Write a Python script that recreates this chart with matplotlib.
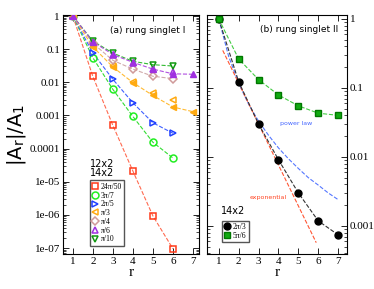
import numpy as np
import matplotlib.pyplot as plt
from matplotlib.ticker import LogLocator, NullFormatter

# panel (a), open symbols (12x2)
r_a = [1, 2, 3, 4, 5, 6]
a_24pi50 = [1, 0.015, 5.0e-4, 2.1e-5, 9.3e-7, 9.5e-8]
a_3pi7 = [1, 0.055, 0.0061, 9.3e-4, 1.55e-4, 5.2e-5]
a_2pi5 = [1, 0.077, 0.0123, 0.0024, 6.0e-4, 2.9e-4]
a_pi3 = [1, 0.12, 0.031, 0.0105, 0.0046, 0.0030]
a_pi4 = [1, 0.15, 0.046, 0.025, 0.0152, 0.0129]
a_pi6 = [1, 0.165, 0.068, 0.039, 0.026, 0.020]
a_pi10 = [1, 0.175, 0.076, 0.043, 0.034, 0.031]
# panel (a), filled symbols (14x2)
r_a14 = [1, 2, 3, 4, 5, 6, 7]
a14_pi3 = [1, 0.117, 0.029, 0.0098, 0.0040, 0.0018, 0.0013]
a14_pi6 = [1, 0.167, 0.069, 0.040, 0.025, 0.018, 0.0175]

# panel (b)
r_b = [1, 2, 3, 4, 5, 6, 7]
b_2pi3 = [1, 0.123, 0.030, 0.0091, 0.0030, 0.00118, 7.4e-4]
b_5pi6 = [1, 0.263, 0.132, 0.079, 0.055, 0.043, 0.040]
r_pow = [1, 1.5, 2, 2.5, 3, 3.5, 4, 4.5, 5, 5.5, 6, 6.5, 7]
pow_law = [1, 0.285, 0.117, 0.058, 0.033, 0.0206, 0.0135, 0.0094, 0.0068,
           0.0050, 0.0039, 0.0030, 0.0024]
r_exp = [1.2, 5.9]
exp_fit = [0.35, 5.7e-4]

plt.rcParams['font.family'] = 'Liberation Serif'
plt.rcParams['mathtext.fontset'] = 'custom'
plt.rcParams['mathtext.rm'] = 'Liberation Serif'
plt.rcParams['mathtext.it'] = 'Liberation Serif:italic'
fig = plt.figure(figsize=(3.74, 2.89), dpi=100)
axa = fig.add_axes([0.168, 0.121, 0.364, 0.827])
axb = fig.add_axes([0.553, 0.121, 0.375, 0.827])

ms = 5
lw = 0.8
series = [
    (a_24pi50, 's', '#ff3a1a', '#ff6a50', '24π/50'),
    (a_3pi7, 'o', '#22ee22', '#33dd33', '3π/7'),
    (a_2pi5, '>', '#2040ff', '#4060ff', '2π/5'),
    (a_pi3, '<', '#ffaa11', '#ffbb33', 'π/3'),
    (a_pi4, 'D', '#d09a9a', '#d0aaaa', 'π/4'),
    (a_pi6, '^', '#a030e0', '#b050e0', 'π/6'),
    (a_pi10, 'v', '#119911', '#33bb33', 'π/10'),
]
for vals, mk, c, lc, lab in series:
    if mk not in ('<', '^'):
        axa.plot(r_a, vals, '--', color=lc, lw=lw, zorder=1)
    axa.plot(r_a, vals, mk, mfc='none', mec=c, mew=1.1,
             ms=ms if mk != 'D' else 4, label=lab, zorder=2)
axa.plot(r_a14, a14_pi3, '--', color='#ffbb33', lw=lw, zorder=1)
axa.plot(r_a14, a14_pi3, '<', color='#ffaa11', ms=ms, zorder=3)
axa.plot(r_a14, a14_pi6, '--', color='#b050e0', lw=lw, zorder=1)
axa.plot(r_a14, a14_pi6, '^', color='#a030e0', ms=ms, zorder=3)

axa.set_yscale('log')
axa.set_xlim(0.5, 7.3)
axa.set_ylim(6.6e-8, 1.07)
axa.set_yticks([1, 0.1, 0.01, 0.001, 1e-4, 1e-5, 1e-6, 1e-7])
axa.set_yticklabels(['1', '0.1', '0.01', '0.001', '0.0001', '1e-05', '1e-06', '1e-07'])
axa.set_ylabel(r'|A$_\mathregular{r}$|/A$_\mathregular{1}$', family='DejaVu Sans',
               fontsize=14, labelpad=1)
axa.text(0.62, 0.937, '(a) rung singlet I', transform=axa.transAxes, family='DejaVu Sans',
         fontsize=6.5, ha='center', va='center')
axa.text(0.29, 0.377, '12x2', transform=axa.transAxes, family='DejaVu Sans',
         fontsize=7, ha='center', va='center')
axa.text(0.29, 0.340, '14x2', transform=axa.transAxes, family='DejaVu Sans',
         fontsize=7, ha='center', va='center')
axa.legend(loc='lower left', bbox_to_anchor=(0.2, 0.035), fontsize=5.5,
           handlelength=0.7, handletextpad=0.4, labelspacing=0.1,
           borderpad=0.3, borderaxespad=0, fancybox=False,
           edgecolor='#555555', framealpha=1)

axb.plot(r_pow, pow_law, '--', color='#5577ff', lw=lw, zorder=1)
axb.plot(r_exp, exp_fit, '--', color='#ff5533', lw=lw, zorder=1)
axb.plot(r_b, b_2pi3, '--', color='#333333', lw=lw, zorder=2)
axb.plot(r_b, b_2pi3, 'o', color='black', ms=ms, label='2π/3', zorder=3)
axb.plot(r_b, b_5pi6, '--', color='#44cc44', lw=lw, zorder=2)
axb.plot(r_b, b_5pi6, 's', color='#11aa11', mec='#007700', ms=ms, label='5π/6', zorder=3)
axb.set_yscale('log')
axb.set_xlim(0.4, 7.45)
axb.set_ylim(3.9e-4, 1.14)
axb.set_yticks([1, 0.1, 0.01, 0.001])
axb.set_yticklabels(['1', '0.1', '0.01', '0.001'])
axb.yaxis.tick_right()
axb.text(0.66, 0.94, '(b) rung singlet II', transform=axb.transAxes, family='DejaVu Sans',
         fontsize=6.5, ha='center', va='center')
axb.text(0.64, 0.545, 'power law', transform=axb.transAxes, family='DejaVu Sans',
         fontsize=4.5, color='#4466ff', ha='center', va='center')
axb.text(0.44, 0.235, 'exponential', transform=axb.transAxes, family='DejaVu Sans',
         fontsize=4.5, color='#ff4422', ha='center', va='center')
axb.text(0.19, 0.18, '14x2', transform=axb.transAxes, family='DejaVu Sans',
         fontsize=7, ha='center', va='center')
axb.legend(loc='lower left', bbox_to_anchor=(0.107, 0.05), fontsize=5.5,
           handlelength=0.7, handletextpad=0.4, labelspacing=0.1,
           borderpad=0.3, borderaxespad=0, fancybox=False,
           edgecolor='#555555', framealpha=1)

for ax in (axa, axb):
    ax.set_xticks(range(1, 8))
    ax.set_xlabel('r', fontsize=11, labelpad=0)
    ax.tick_params(which='both', direction='in', top=True, right=True, left=True,
                   labelsize=8, pad=2)
    ax.tick_params(which='major', length=4, width=0.6)
    ax.tick_params(which='minor', length=2, width=0.5)
    ax.yaxis.set_minor_locator(LogLocator(base=10, subs=np.arange(2, 10), numticks=20))
    ax.yaxis.set_minor_formatter(NullFormatter())
    for s in ax.spines.values():
        s.set_linewidth(0.8)
axb.tick_params(which='both', labelleft=False, labelright=True)

fig.savefig('out.png', dpi=100)
